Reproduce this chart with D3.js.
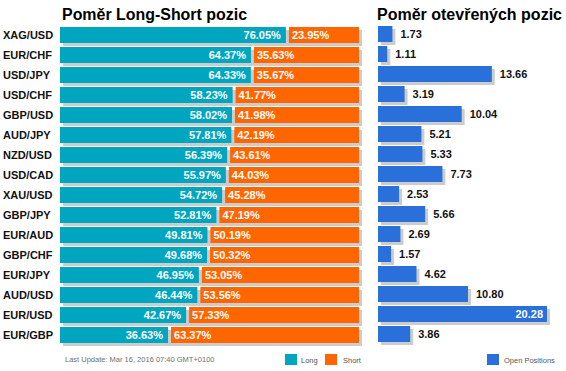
<!DOCTYPE html>
<html>
<head>
<meta charset="utf-8">
<script src="https://cdn.jsdelivr.net/npm/d3@7"></script>
<style>
  body { margin: 0; background: #fff; }
  svg { font-family: Arial, "Liberation Sans", sans-serif; }
</style>
</head>
<body>
<svg id="chart" width="566" height="371"></svg>
<script>
// data
const pairs = ['XAG/USD', 'EUR/CHF', 'USD/JPY', 'USD/CHF', 'GBP/USD', 'AUD/JPY', 'NZD/USD', 'USD/CAD',
    'XAU/USD', 'GBP/JPY', 'EUR/AUD', 'GBP/CHF', 'EUR/JPY', 'AUD/USD', 'EUR/USD', 'EUR/GBP'];
const longPct = [76.05, 64.37, 64.33, 58.23, 58.02, 57.81, 56.39, 55.97, 54.72, 52.81, 49.81, 49.68, 46.95, 46.44, 42.67, 36.63];
const shortPct = [23.95, 35.63, 35.67, 41.77, 41.98, 42.19, 43.61, 44.03, 45.28, 47.19, 50.19, 50.32, 53.05, 53.56, 57.33, 63.37];
const openPos = [1.73, 1.11, 13.66, 3.19, 10.04, 5.21, 5.33, 7.73, 2.53, 5.66, 2.69, 1.57, 4.62, 10.80, 20.28, 3.86];

const colLong = '#00a6c0', colShort = '#ff6600', colOpen = '#2970db', colShadow = '#cccccc';

const svg = d3.select('#chart');

// one row every 20px, bars 16px tall
const y = d3.scaleBand().domain(d3.range(pairs.length)).range([27, 27 + 20 * pairs.length])
    .paddingInner(0.2).paddingOuter(0.1).align(0);
const barH = y.bandwidth();

// left: long/short split
const x = d3.scaleLinear().domain([0, 100]).range([60, 359]);
const gap = 1.5;

svg.append('text').attr('x', 62).attr('y', 20)
    .attr('font-size', 16).attr('font-weight', 'bold').attr('fill', '#000')
    .attr('textLength', 185).attr('lengthAdjust', 'spacingAndGlyphs')
    .text('Poměr Long-Short pozic');

const left = svg.append('g');
const rows = left.selectAll('g').data(pairs).join('g')
    .attr('transform', (d, i) => `translate(0,${y(i)})`);

rows.append('rect').attr('x', x(0) + 3).attr('y', 3)
    .attr('width', x(100) - x(0)).attr('height', barH).attr('fill', colShadow);
rows.append('rect').attr('x', x(0)).attr('y', 0)
    .attr('width', (d, i) => x(longPct[i]) - x(0) - gap).attr('height', barH).attr('fill', colLong);
rows.append('rect').attr('x', (d, i) => x(100 - shortPct[i]) + gap).attr('y', 0)
    .attr('width', (d, i) => x(100) - x(100 - shortPct[i]) - gap).attr('height', barH).attr('fill', colShort);

rows.append('text').attr('x', 3).attr('y', 12)
    .attr('font-size', 11).attr('font-weight', 'bold').attr('fill', '#111')
    .text(d => d);
rows.append('text').attr('x', (d, i) => x(longPct[i]) - gap - 5).attr('y', 12)
    .attr('text-anchor', 'end').attr('font-size', 11).attr('font-weight', 'bold').attr('fill', '#fff')
    .text((d, i) => longPct[i].toFixed(2) + '%');
rows.append('text').attr('x', (d, i) => x(100 - shortPct[i]) + gap + 3).attr('y', 12)
    .attr('font-size', 11).attr('font-weight', 'bold').attr('fill', '#fff')
    .text((d, i) => shortPct[i].toFixed(2) + '%');

// right: open positions
const xo = d3.scaleLinear().domain([0, 20.28]).range([378, 547]);

svg.append('text').attr('x', 377).attr('y', 20)
    .attr('font-size', 16).attr('font-weight', 'bold').attr('fill', '#000')
    .attr('textLength', 185).attr('lengthAdjust', 'spacingAndGlyphs')
    .text('Poměr otevřených pozic');

const right = svg.append('g');
const orows = right.selectAll('g').data(openPos).join('g')
    .attr('transform', (d, i) => `translate(0,${y(i) - 1})`);

orows.append('rect').attr('x', xo(0) + 3).attr('y', 3)
    .attr('width', d => xo(d) - xo(0)).attr('height', barH).attr('fill', colShadow);
orows.append('rect').attr('x', xo(0)).attr('y', 0)
    .attr('width', d => xo(d) - xo(0)).attr('height', barH).attr('fill', colOpen);

const maxOpen = d3.max(openPos);
orows.append('text')
    .attr('x', d => d === maxOpen ? xo(d) - 4 : xo(d) + 8)
    .attr('y', 12)
    .attr('text-anchor', d => d === maxOpen ? 'end' : 'start')
    .attr('font-size', 11).attr('font-weight', 'bold')
    .attr('fill', d => d === maxOpen ? '#fff' : '#111')
    .text(d => d.toFixed(2));

// footer
svg.append('text').attr('x', 65).attr('y', 362)
    .attr('font-size', 7.5).attr('fill', '#707070')
    .text('Last Update: Mar 16, 2016 07:40 GMT+0100');

const legend = [
    { label: 'Long', color: colLong, x: 285, tx: 16 },
    { label: 'Short', color: colShort, x: 325, tx: 18 },
    { label: 'Open Positions', color: colOpen, x: 487, tx: 17 }
];
const lg = svg.append('g').selectAll('g').data(legend).join('g')
    .attr('transform', d => `translate(${d.x},354)`);
lg.append('rect').attr('width', 12).attr('height', 11).attr('fill', d => d.color);
lg.append('text').attr('x', d => d.tx).attr('y', 9)
    .attr('font-size', 7.5).attr('fill', '#555')
    .text(d => d.label);
</script>
</body>
</html>
